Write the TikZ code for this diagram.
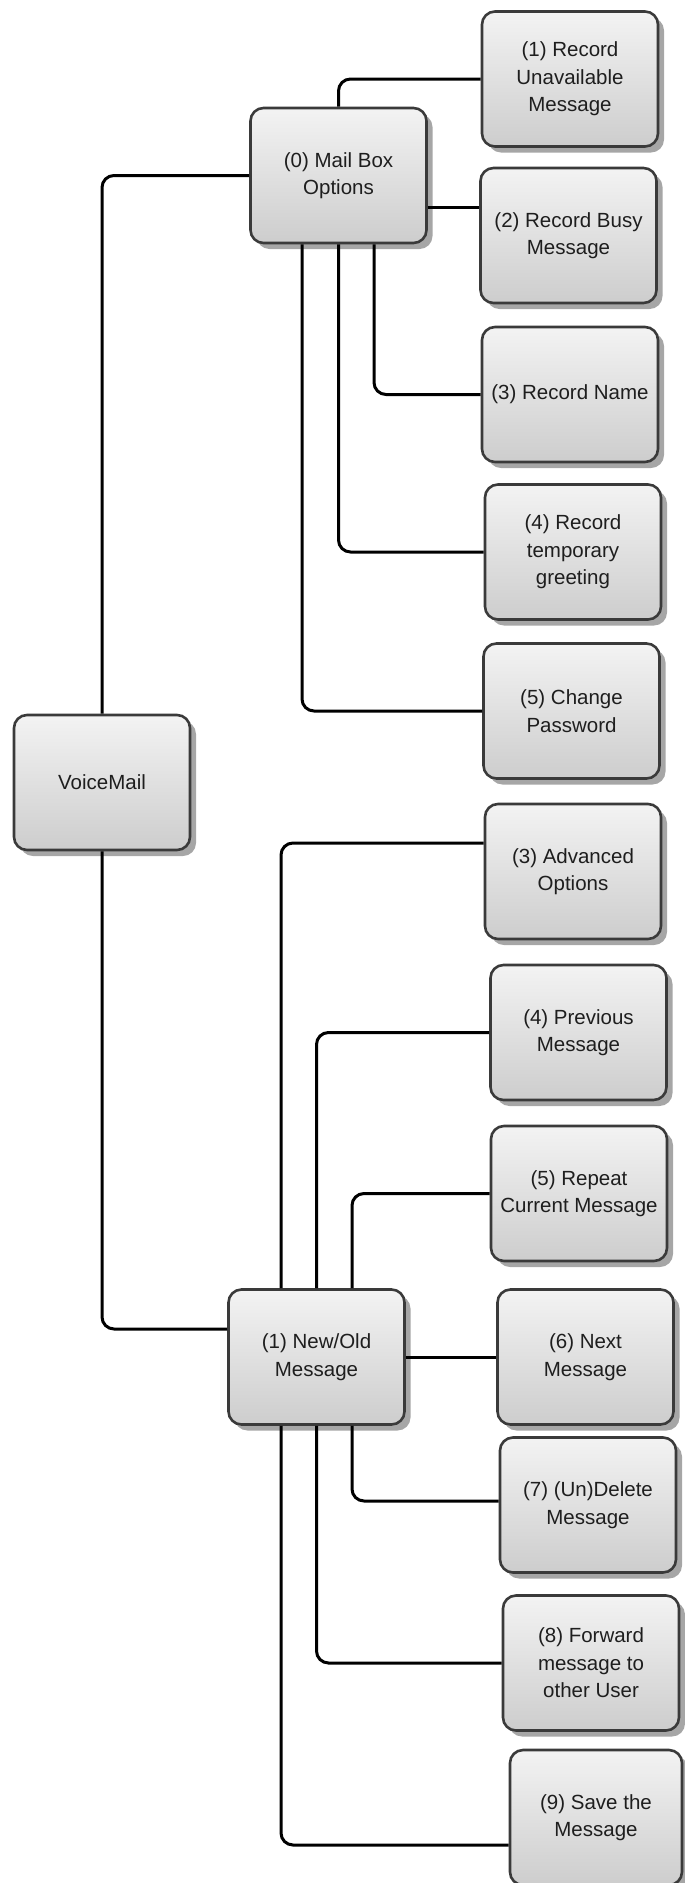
\documentclass[tikz,border=0pt]{standalone}
\usepackage{fontspec}
\setmainfont{Liberation Sans}
\usetikzlibrary{shadows}
\definecolor{boxline}{HTML}{3A3A3A}
\definecolor{topc}{HTML}{F3F3F3}
\definecolor{botc}{HTML}{CDCDCD}
\definecolor{shadowc}{HTML}{A6A6A6}
\definecolor{txt}{HTML}{1E1E1E}
\begin{document}
\begin{tikzpicture}[x=1pt,y=-1pt,
  box/.style={draw=boxline, line width=2.6pt, rounded corners=13pt,
    top color=topc, bottom color=botc, minimum width=176pt, minimum height=135pt,
    inner sep=0pt, align=center, text=txt,
    font=\fontsize{20.5}{27.5}\selectfont,
    drop shadow={shadow xshift=6pt, shadow yshift=-6pt, fill=shadowc, opacity=1}},
  link/.style={line width=3pt, rounded corners=12pt, draw=black}]
\useasboundingbox (0,0) rectangle (685,1883);
\begin{scope}
\clip (0,0) rectangle (685,1883);
\node[box] (vm)  at (102,782.5)   {VoiceMail};
\node[box] (mbo) at (338.5,175.5) {(0) Mail Box\\Options};
\node[box] (r1)  at (570,79)      {(1) Record\\Unavailable\\Message};
\node[box] (rb)  at (568.5,235.5) {(2) Record Busy\\Message};
\node[box] (rn)  at (570,394.5)   {(3) Record Name};
\node[box] (r4)  at (573,552)     {(4) Record\\temporary\\greeting};
\node[box] (r5)  at (571.5,711)   {(5) Change\\Password};
\node[box] (ao)  at (573,871.5)   {(3) Advanced\\Options};
\node[box] (pm)  at (578.5,1032.5){(4) Previous\\Message};
\node[box] (rep) at (579,1193.5)  {(5) Repeat\\Current Message};
\node[box] (nom) at (316.5,1357)  {(1) New/Old\\Message};
\node[box] (nx)  at (585.5,1357)  {(6) Next\\Message};
\node[box] (del) at (588,1505)    {(7) (Un)Delete\\Message};
\node[box] (fwd) at (591,1663)    {(8) Forward\\message to\\other User};
\node[box, minimum width=172pt] (sv) at (596,1817.5) {(9) Save the\\Message};

\draw[link] (mbo.north) |- (r1.west);
\draw[link] (mbo.west) -| (vm.north);
\draw[link] ([yshift=-31.5pt]mbo.east) -- ([yshift=28.5pt]rb.west);
\draw[link] ([xshift=35.5pt]mbo.south) |- (rn.west);
\draw[link] (mbo.south) |- (r4.west);
\draw[link] ([xshift=-36.5pt]mbo.south) |- (r5.west);

\draw[link] (vm.south) |- ([yshift=28pt]nom.west);
\draw[link] ([xshift=-35.5pt]nom.north) |- ([yshift=28.5pt]ao.west);
\draw[link] (nom.north) |- (pm.west);
\draw[link] ([xshift=35.5pt]nom.north) |- (rep.west);
\draw[link] (nom.east) -- (nx.west);
\draw[link] ([xshift=35.5pt]nom.south) |- ([yshift=4pt]del.west);
\draw[link] (nom.south) |- (fwd.west);
\draw[link] ([xshift=-35.5pt]nom.south) |- ([yshift=-27.5pt]sv.west);
\end{scope}
\end{tikzpicture}
\end{document}
